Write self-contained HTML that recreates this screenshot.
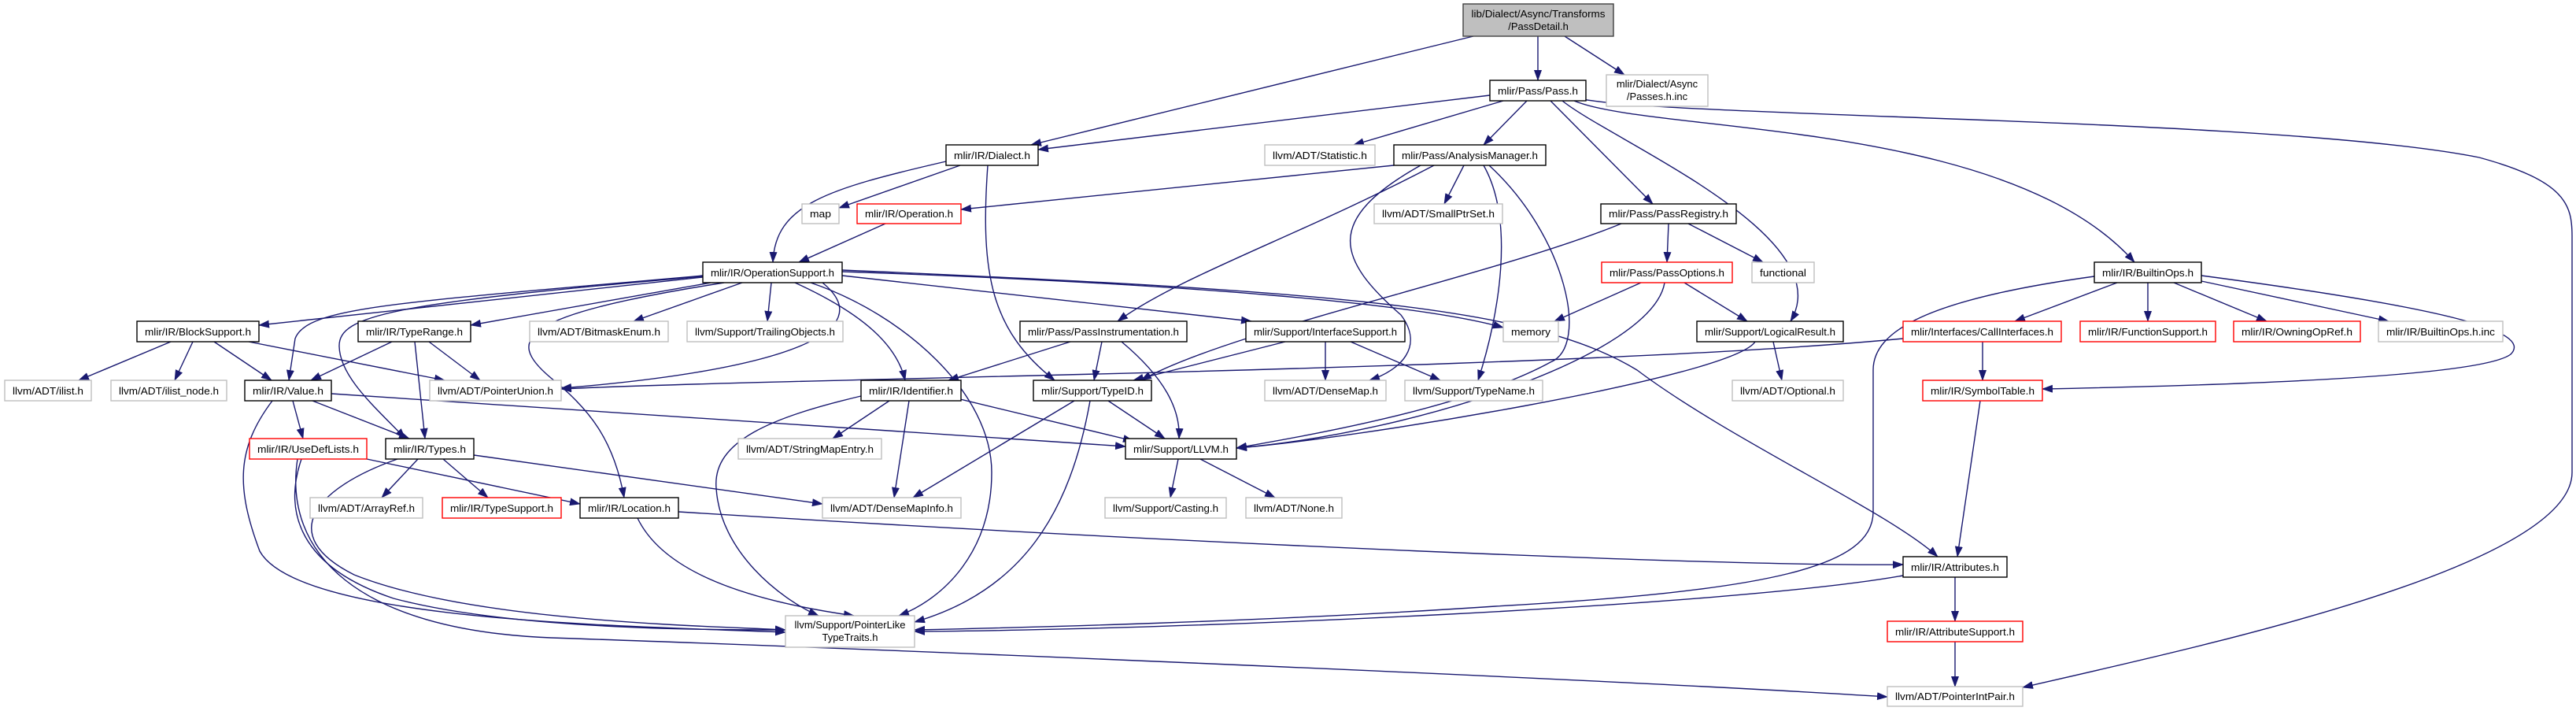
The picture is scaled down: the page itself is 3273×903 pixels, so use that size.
<!DOCTYPE html>
<html><head><meta charset="utf-8"><style>
html,body{margin:0;padding:0;background:#fff;}
svg{display:block;}
text{font-family:"Liberation Sans",sans-serif;font-size:13px;fill:#000;}
.e{fill:none;stroke:#191970;stroke-width:1.4;marker-end:url(#a);}
.b{fill:#fff;stroke:#000;stroke-width:1.4;}
.g{fill:#fff;stroke:#bfbfbf;stroke-width:1.4;}
.r{fill:#fff;stroke:#ff0000;stroke-width:1.4;}
</style></head><body>
<svg width="3273" height="903" viewBox="0 0 3273 903" xmlns="http://www.w3.org/2000/svg">
<defs><marker id="a" markerUnits="userSpaceOnUse" markerWidth="14" markerHeight="10" refX="13" refY="5" orient="auto"><path d="M0,0 L14,5 L0,10 z" fill="#191970"/></marker></defs>
<g>
<path class="e" d="M1872,46 L1310,184"/>
<path class="e" d="M1954,46 L1954,102"/>
<path class="e" d="M1988,46 L2064,95"/>
<path class="e" d="M1893,121 L1319,190"/>
<path class="e" d="M1910,128 L1720,184"/>
<path class="e" d="M1940,128 L1885,184"/>
<path class="e" d="M1970,128 L2100,259"/>
<path class="e" d="M1985,128 C2050,180 2340,300 2275,408"/>
<path class="e" d="M2000,128 C2100,170 2550,150 2712,333"/>
<path class="e" d="M2010,126 C2150,150 2900,150 3150,200 C3260,230 3268,260 3268,300 L3268,600 C3268,720 2800,820 2570,873"/>
<path class="e" d="M1202,205 C1050,240 985,260 982,333"/>
<path class="e" d="M1220,210 L1066,264"/>
<path class="e" d="M1255,210 C1245,350 1260,420 1340,483"/>
<path class="e" d="M1771,210 L1221,266"/>
<path class="e" d="M1860,210 L1835,259"/>
<path class="e" d="M1822,210 C1650,300 1500,350 1420,408"/>
<path class="e" d="M1805,210 C1680,280 1700,330 1780,400 C1810,440 1780,470 1740,483"/>
<path class="e" d="M1885,210 C1925,280 1905,400 1878,483"/>
<path class="e" d="M1892,210 C1990,300 2020,440 1970,460 C1860,520 1650,555 1571,569"/>
<path class="e" d="M1125,284 L1015,333"/>
<path class="e" d="M2120,284 L2118,333"/>
<path class="e" d="M2145,284 L2240,333"/>
<path class="e" d="M2060,284 C1900,350 1560,420 1450,483"/>
<path class="e" d="M2085,359 L1975,408"/>
<path class="e" d="M2140,359 L2220,408"/>
<path class="e" d="M2115,359 C2100,450 1800,550 1571,569"/>
<path class="e" d="M893,352 L329,413"/>
<path class="e" d="M903,359 L598,413"/>
<path class="e" d="M943,359 L805,408"/>
<path class="e" d="M980,359 L975,408"/>
<path class="e" d="M893,350 C500,385 390,390 375,430 L367,483"/>
<path class="e" d="M1045,359 C1120,420 1000,470 713,493"/>
<path class="e" d="M893,351 C500,385 430,400 431,440 C432,480 480,520 515,557"/>
<path class="e" d="M1010,359 C1100,400 1140,440 1150,483"/>
<path class="e" d="M920,359 C660,400 640,430 700,480 C750,520 780,560 793,632"/>
<path class="e" d="M1030,359 C1150,400 1260,500 1260,600 C1260,700 1200,760 1142,782"/>
<path class="e" d="M1070,345 C1500,360 1800,385 1910,416"/>
<path class="e" d="M1070,350 L1590,408"/>
<path class="e" d="M1070,343 C1700,370 1950,390 2080,470 C2200,560 2400,650 2462,707"/>
<path class="e" d="M2690,359 L2560,408"/>
<path class="e" d="M2729,359 L2729,408"/>
<path class="e" d="M2762,359 L2880,408"/>
<path class="e" d="M2797,357 L3035,408"/>
<path class="e" d="M2797,350 C3100,390 3220,420 3190,450 C3150,480 2800,490 2595,494"/>
<path class="e" d="M2661,351 C2450,380 2380,420 2380,470 L2380,650 C2380,720 2250,750 1900,770 C1600,790 1300,797 1162,800"/>
<path class="e" d="M217,434 L100,483"/>
<path class="e" d="M245,434 L222,483"/>
<path class="e" d="M272,434 L345,483"/>
<path class="e" d="M316,434 L565,483"/>
<path class="e" d="M498,434 L395,483"/>
<path class="e" d="M527,434 L540,557"/>
<path class="e" d="M545,434 L610,483"/>
<path class="e" d="M1360,434 L1205,483"/>
<path class="e" d="M1400,434 L1390,483"/>
<path class="e" d="M1425,434 C1480,480 1500,520 1498,557"/>
<path class="e" d="M1633,434 L1440,483"/>
<path class="e" d="M1684,434 L1684,483"/>
<path class="e" d="M1716,434 L1830,483"/>
<path class="e" d="M2253,434 L2264,483"/>
<path class="e" d="M2230,434 C2200,480 1700,560 1571,569"/>
<path class="e" d="M2519,434 L2519,483"/>
<path class="e" d="M2418,430 C2000,470 1000,480 713,494"/>
<path class="e" d="M2516,509 L2487,707"/>
<path class="e" d="M372,509 L385,557"/>
<path class="e" d="M397,509 L520,557"/>
<path class="e" d="M421,500 L1430,567"/>
<path class="e" d="M346,509 C300,570 300,620 330,700 C380,790 800,795 998,803"/>
<path class="e" d="M383,583 C360,650 380,720 500,760 C650,800 900,800 998,800"/>
<path class="e" d="M378,583 C360,700 450,800 700,810 C1000,820 2000,860 2398,885"/>
<path class="e" d="M466,583 L737,640"/>
<path class="e" d="M531,583 L485,632"/>
<path class="e" d="M563,583 L620,632"/>
<path class="e" d="M602,578 L1045,640"/>
<path class="e" d="M505,583 C400,620 350,680 450,730 C600,790 900,795 998,800"/>
<path class="e" d="M1130,509 L1058,557"/>
<path class="e" d="M1155,509 L1136,632"/>
<path class="e" d="M1220,507 L1440,560"/>
<path class="e" d="M1094,503 C980,530 905,560 910,620 C915,700 990,760 1040,782"/>
<path class="e" d="M1408,509 L1480,557"/>
<path class="e" d="M1365,509 L1160,632"/>
<path class="e" d="M1385,509 C1360,650 1300,750 1162,790"/>
<path class="e" d="M1497,583 L1487,632"/>
<path class="e" d="M1525,583 L1620,632"/>
<path class="e" d="M862,650 C1500,690 2200,720 2418,717"/>
<path class="e" d="M810,658 C840,720 930,760 1085,782"/>
<path class="e" d="M2484,733 L2484,789"/>
<path class="e" d="M2418,731 C2200,770 1500,800 1162,802"/>
<path class="e" d="M2484,815 L2484,872"/>
</g>
<g>
<rect x="1859" y="5" width="191" height="41" fill="#bfbfbf" stroke="#404040" stroke-width="1.4"/>
<text x="1954.5" y="22" text-anchor="middle" textLength="170" lengthAdjust="spacingAndGlyphs">lib/Dialect/Async/Transforms</text>
<text x="1954.5" y="38" text-anchor="middle">/PassDetail.h</text>
<rect class="g" x="2041" y="95" width="129" height="40"/>
<text x="2105.5" y="111" text-anchor="middle">mlir/Dialect/Async</text>
<text x="2105.5" y="127" text-anchor="middle">/Passes.h.inc</text>
<rect class="g" x="998" y="782" width="164" height="40"/>
<text x="1080" y="798" text-anchor="middle">llvm/Support/PointerLike</text>
<text x="1080" y="814" text-anchor="middle">TypeTraits.h</text>

<rect class="b" x="1893" y="102" width="122" height="26"/><text x="1954" y="120" text-anchor="middle" textLength="102" lengthAdjust="spacingAndGlyphs">mlir/Pass/Pass.h</text>
<rect class="b" x="1202" y="184" width="117" height="26"/><text x="1260.5" y="202" text-anchor="middle" textLength="97" lengthAdjust="spacingAndGlyphs">mlir/IR/Dialect.h</text>
<rect class="g" x="1607" y="184" width="140" height="26"/><text x="1677" y="202" text-anchor="middle" textLength="120" lengthAdjust="spacingAndGlyphs">llvm/ADT/Statistic.h</text>
<rect class="b" x="1771" y="184" width="193" height="26"/><text x="1867.5" y="202" text-anchor="middle" textLength="173" lengthAdjust="spacingAndGlyphs">mlir/Pass/AnalysisManager.h</text>
<rect class="g" x="1019" y="259" width="47" height="25"/><text x="1042.5" y="276" text-anchor="middle" textLength="27" lengthAdjust="spacingAndGlyphs">map</text>
<rect class="r" x="1089" y="259" width="132" height="25"/><text x="1155" y="276" text-anchor="middle" textLength="112" lengthAdjust="spacingAndGlyphs">mlir/IR/Operation.h</text>
<rect class="g" x="1746" y="259" width="163" height="25"/><text x="1827.5" y="276" text-anchor="middle" textLength="143" lengthAdjust="spacingAndGlyphs">llvm/ADT/SmallPtrSet.h</text>
<rect class="b" x="2034" y="259" width="172" height="25"/><text x="2120" y="276" text-anchor="middle" textLength="152" lengthAdjust="spacingAndGlyphs">mlir/Pass/PassRegistry.h</text>
<rect class="b" x="893" y="333" width="177" height="26"/><text x="981.5" y="351" text-anchor="middle" textLength="157" lengthAdjust="spacingAndGlyphs">mlir/IR/OperationSupport.h</text>
<rect class="r" x="2035" y="333" width="166" height="26"/><text x="2118" y="351" text-anchor="middle" textLength="146" lengthAdjust="spacingAndGlyphs">mlir/Pass/PassOptions.h</text>
<rect class="g" x="2226" y="333" width="79" height="26"/><text x="2265.5" y="351" text-anchor="middle" textLength="59" lengthAdjust="spacingAndGlyphs">functional</text>
<rect class="b" x="2661" y="333" width="136" height="26"/><text x="2729" y="351" text-anchor="middle" textLength="116" lengthAdjust="spacingAndGlyphs">mlir/IR/BuiltinOps.h</text>
<rect class="b" x="174" y="408" width="155" height="26"/><text x="251.5" y="426" text-anchor="middle" textLength="135" lengthAdjust="spacingAndGlyphs">mlir/IR/BlockSupport.h</text>
<rect class="b" x="455" y="408" width="143" height="26"/><text x="526.5" y="426" text-anchor="middle" textLength="123" lengthAdjust="spacingAndGlyphs">mlir/IR/TypeRange.h</text>
<rect class="g" x="673" y="408" width="176" height="26"/><text x="761" y="426" text-anchor="middle" textLength="156" lengthAdjust="spacingAndGlyphs">llvm/ADT/BitmaskEnum.h</text>
<rect class="g" x="873" y="408" width="198" height="26"/><text x="972" y="426" text-anchor="middle" textLength="178" lengthAdjust="spacingAndGlyphs">llvm/Support/TrailingObjects.h</text>
<rect class="b" x="1296" y="408" width="212" height="26"/><text x="1402" y="426" text-anchor="middle" textLength="192" lengthAdjust="spacingAndGlyphs">mlir/Pass/PassInstrumentation.h</text>
<rect class="b" x="1583" y="408" width="202" height="26"/><text x="1684" y="426" text-anchor="middle" textLength="182" lengthAdjust="spacingAndGlyphs">mlir/Support/InterfaceSupport.h</text>
<rect class="g" x="1910" y="408" width="70" height="26"/><text x="1945" y="426" text-anchor="middle" textLength="50" lengthAdjust="spacingAndGlyphs">memory</text>
<rect class="b" x="2156" y="408" width="186" height="26"/><text x="2249" y="426" text-anchor="middle" textLength="166" lengthAdjust="spacingAndGlyphs">mlir/Support/LogicalResult.h</text>
<rect class="r" x="2418" y="408" width="201" height="26"/><text x="2518.5" y="426" text-anchor="middle" textLength="181" lengthAdjust="spacingAndGlyphs">mlir/Interfaces/CallInterfaces.h</text>
<rect class="r" x="2643" y="408" width="172" height="26"/><text x="2729" y="426" text-anchor="middle" textLength="152" lengthAdjust="spacingAndGlyphs">mlir/IR/FunctionSupport.h</text>
<rect class="r" x="2838" y="408" width="161" height="26"/><text x="2918.5" y="426" text-anchor="middle" textLength="141" lengthAdjust="spacingAndGlyphs">mlir/IR/OwningOpRef.h</text>
<rect class="g" x="3022" y="408" width="158" height="26"/><text x="3101" y="426" text-anchor="middle" textLength="138" lengthAdjust="spacingAndGlyphs">mlir/IR/BuiltinOps.h.inc</text>
<rect class="g" x="6" y="483" width="110" height="26"/><text x="61" y="501" text-anchor="middle" textLength="90" lengthAdjust="spacingAndGlyphs">llvm/ADT/ilist.h</text>
<rect class="g" x="141" y="483" width="147" height="26"/><text x="214.5" y="501" text-anchor="middle" textLength="127" lengthAdjust="spacingAndGlyphs">llvm/ADT/ilist_node.h</text>
<rect class="b" x="311" y="483" width="110" height="26"/><text x="366" y="501" text-anchor="middle" textLength="90" lengthAdjust="spacingAndGlyphs">mlir/IR/Value.h</text>
<rect class="g" x="546" y="483" width="167" height="26"/><text x="629.5" y="501" text-anchor="middle" textLength="147" lengthAdjust="spacingAndGlyphs">llvm/ADT/PointerUnion.h</text>
<rect class="b" x="1094" y="483" width="127" height="26"/><text x="1157.5" y="501" text-anchor="middle" textLength="107" lengthAdjust="spacingAndGlyphs">mlir/IR/Identifier.h</text>
<rect class="b" x="1313" y="483" width="150" height="26"/><text x="1388" y="501" text-anchor="middle" textLength="130" lengthAdjust="spacingAndGlyphs">mlir/Support/TypeID.h</text>
<rect class="g" x="1607" y="483" width="154" height="26"/><text x="1684" y="501" text-anchor="middle" textLength="134" lengthAdjust="spacingAndGlyphs">llvm/ADT/DenseMap.h</text>
<rect class="g" x="1785" y="483" width="175" height="26"/><text x="1872.5" y="501" text-anchor="middle" textLength="155" lengthAdjust="spacingAndGlyphs">llvm/Support/TypeName.h</text>
<rect class="g" x="2201" y="483" width="141" height="26"/><text x="2271.5" y="501" text-anchor="middle" textLength="121" lengthAdjust="spacingAndGlyphs">llvm/ADT/Optional.h</text>
<rect class="r" x="2443" y="483" width="152" height="26"/><text x="2519" y="501" text-anchor="middle" textLength="132" lengthAdjust="spacingAndGlyphs">mlir/IR/SymbolTable.h</text>
<rect class="r" x="317" y="557" width="149" height="26"/><text x="391.5" y="575" text-anchor="middle" textLength="129" lengthAdjust="spacingAndGlyphs">mlir/IR/UseDefLists.h</text>
<rect class="b" x="490" y="557" width="112" height="26"/><text x="546" y="575" text-anchor="middle" textLength="92" lengthAdjust="spacingAndGlyphs">mlir/IR/Types.h</text>
<rect class="g" x="938" y="557" width="182" height="26"/><text x="1029" y="575" text-anchor="middle" textLength="162" lengthAdjust="spacingAndGlyphs">llvm/ADT/StringMapEntry.h</text>
<rect class="b" x="1430" y="557" width="141" height="26"/><text x="1500.5" y="575" text-anchor="middle" textLength="121" lengthAdjust="spacingAndGlyphs">mlir/Support/LLVM.h</text>
<rect class="g" x="394" y="632" width="143" height="26"/><text x="465.5" y="650" text-anchor="middle" textLength="123" lengthAdjust="spacingAndGlyphs">llvm/ADT/ArrayRef.h</text>
<rect class="r" x="562" y="632" width="151" height="26"/><text x="637.5" y="650" text-anchor="middle" textLength="131" lengthAdjust="spacingAndGlyphs">mlir/IR/TypeSupport.h</text>
<rect class="b" x="737" y="632" width="125" height="26"/><text x="799.5" y="650" text-anchor="middle" textLength="105" lengthAdjust="spacingAndGlyphs">mlir/IR/Location.h</text>
<rect class="g" x="1045" y="632" width="176" height="26"/><text x="1133" y="650" text-anchor="middle" textLength="156" lengthAdjust="spacingAndGlyphs">llvm/ADT/DenseMapInfo.h</text>
<rect class="g" x="1404" y="632" width="154" height="26"/><text x="1481" y="650" text-anchor="middle" textLength="134" lengthAdjust="spacingAndGlyphs">llvm/Support/Casting.h</text>
<rect class="g" x="1583" y="632" width="122" height="26"/><text x="1644" y="650" text-anchor="middle" textLength="102" lengthAdjust="spacingAndGlyphs">llvm/ADT/None.h</text>
<rect class="b" x="2418" y="707" width="132" height="26"/><text x="2484" y="725" text-anchor="middle" textLength="112" lengthAdjust="spacingAndGlyphs">mlir/IR/Attributes.h</text>
<rect class="r" x="2398" y="789" width="172" height="26"/><text x="2484" y="807" text-anchor="middle" textLength="152" lengthAdjust="spacingAndGlyphs">mlir/IR/AttributeSupport.h</text>
<rect class="g" x="2398" y="872" width="172" height="25"/><text x="2484" y="889" text-anchor="middle" textLength="152" lengthAdjust="spacingAndGlyphs">llvm/ADT/PointerIntPair.h</text>
</g>
</svg>
</body></html>
